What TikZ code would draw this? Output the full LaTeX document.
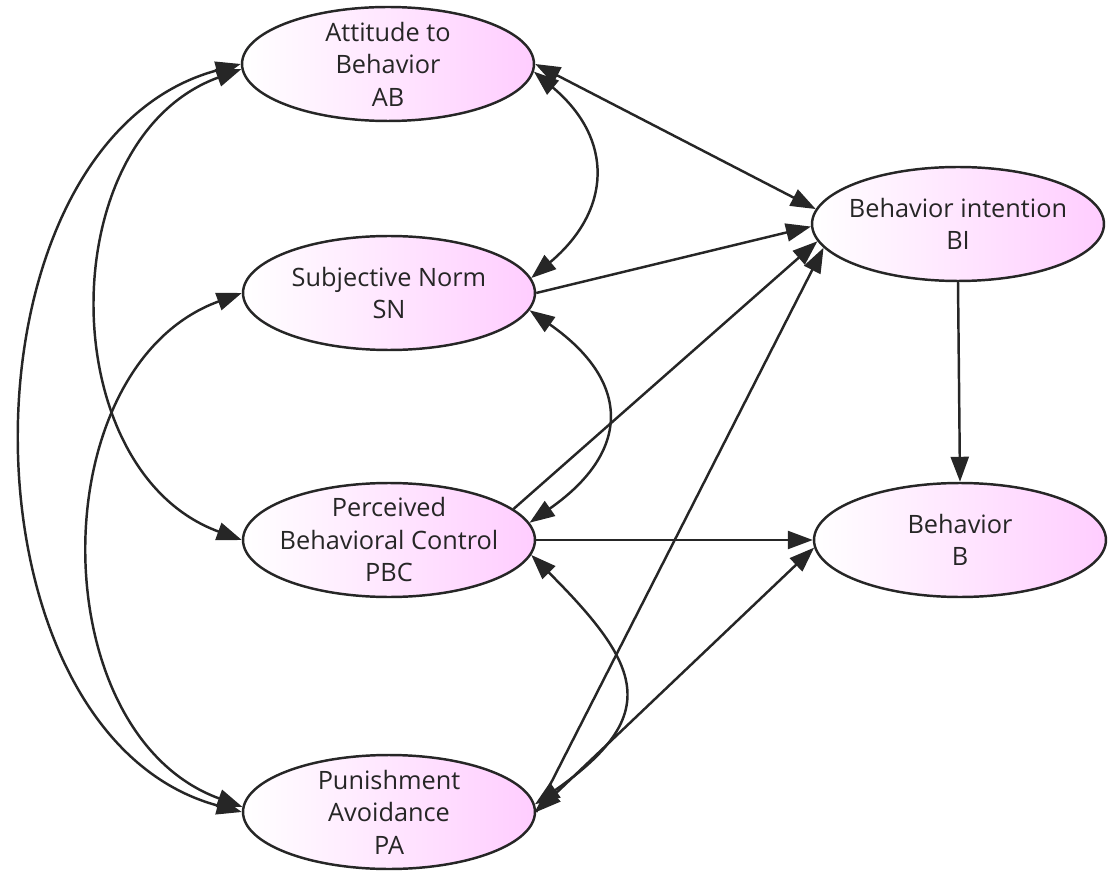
\documentclass[tikz,border=0pt]{standalone}
\usepackage{fontspec}
\setmainfont{Open Sans}
\usetikzlibrary{shapes.geometric,arrows.meta}
\definecolor{latentpink}{RGB}{255,205,255}
\definecolor{edgegray}{RGB}{38,38,38}

\begin{document}
\begin{tikzpicture}[x=0.02cm,y=0.02cm, color=edgegray, line width=1.4pt,
  every node/.style={ellipse,draw,left color=white,right color=latentpink,
    minimum width=5.84cm,minimum height=2.28cm,inner xsep=-0.3cm,inner ysep=-0.3cm,
    align=center,text=black!85,font=\fontsize{14.4}{18.5}\selectfont},
  >={Triangle[length=0.5cm,width=0.36cm]}]
\useasboundingbox (0,0) rectangle (1112,-871);
% Define all the nodes.
% Attitude
\node (attitude) at (388,-64) {Attitude to\\Behavior\\AB};
% Subjective norm
\node (subj_norm) at (389,-293) {Subjective Norm\\SN};
% Perceived control
\node (perc_control) at (389,-540) {Perceived\\Behavioral Control\\PBC};
% Punishment avoidance
\node (punish) at (389,-812) {Punishment\\Avoidance\\PA};
% Intention
\node (intention) at (958,-224) {Behavior intention\\BI};
% Behavior
\node (behavior) at (960,-540) {Behavior\\B};
% Draw the arrows
\draw[<->] (attitude.east) -- (intention.174);
\draw[<->] (attitude.357) to[out=-40,in=40,looseness=1.3] (subj_norm.6);
\draw[->] (subj_norm.east) -- (intention.181);
\draw[<->] (subj_norm.353) to[out=-35,in=35,looseness=1.5] (perc_control.7);
\draw[->] (perc_control.14) -- (intention.187);
\draw[->] (punish.east) -- (intention.190);
\draw[->] (perc_control.east) -- (behavior.west);
\draw[<->] (punish.east) -- (behavior.183);
\draw[<->] (perc_control.354) to[out=-45,in=35,looseness=1.6] (punish.3);
\draw[->] (intention.south) -- (behavior.north);
% Left side
\draw[<->] (attitude.west) to[out=195,in=165,looseness=1.03] (punish.west);
\draw[<->] (attitude.182) to[out=200,in=160,looseness=1.1] (perc_control.west);
\draw[<->] (subj_norm.west) to[out=200,in=160,looseness=1.07] (punish.178);
\end{tikzpicture}
\end{document}
